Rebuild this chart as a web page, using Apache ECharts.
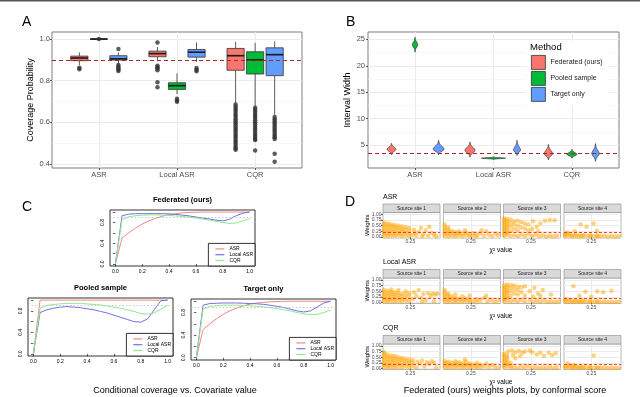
<!DOCTYPE html>
<html>
<head>
<meta charset="utf-8">
<script src="https://cdn.jsdelivr.net/npm/echarts@6/dist/echarts.min.js"></script>
<style>html,body{margin:0;padding:0;background:#fff}#main{width:640px;height:397px}</style>
</head>
<body>
<div id="main"></div>
<script>
// ---------- data ----------
const methods = ['Federated (ours)', 'Pooled sample', 'Target only'];
const scores = ['ASR', 'Local ASR', 'CQR'];
const methodColors = ['#F8766D', '#00BA38', '#619CFF'];

// A: coverage, [min, q1, median, q3, max] per score
const coverFed = [[0.875, 0.896, 0.909, 0.918, 0.936], [0.895, 0.915, 0.93, 0.942, 0.962], [0.69, 0.85, 0.92, 0.955, 0.987]];
const coverPooled = [[1.0, 1.0, 1.0, 1.0, 1.0], [0.735, 0.758, 0.776, 0.79, 0.835], [0.675, 0.832, 0.9, 0.939, 0.982]];
const coverTarget = [[0.88, 0.899, 0.905, 0.92, 0.935], [0.89, 0.913, 0.937, 0.95, 0.984], [0.635, 0.824, 0.925, 0.958, 0.989]];
// A: outliers per score
const outFed = [[0.862, 0.855], [0.984, 0.872, 0.865, 0.858, 0.85, 0.792, 0.768],
  [0.685, 0.675, 0.665, 0.655, 0.645, 0.635, 0.625, 0.615, 0.605, 0.595, 0.585, 0.575, 0.565, 0.555, 0.545, 0.535, 0.525, 0.515, 0.505, 0.495, 0.485, 0.475, 0.468]];
const outPooled = [[1.0], [0.713, 0.705, 0.699],
  [0.67, 0.66, 0.65, 0.64, 0.63, 0.62, 0.61, 0.6, 0.59, 0.58, 0.57, 0.56, 0.55, 0.54, 0.53, 0.52, 0.515, 0.464]];
const outTarget = [[0.952, 0.875, 0.868, 0.86, 0.853, 0.846], [0.861, 0.852, 0.845],
  [0.625, 0.615, 0.605, 0.595, 0.585, 0.575, 0.565, 0.555, 0.545, 0.535, 0.528, 0.52, 0.448, 0.41]];
const nominalCover = 0.9;

// B: interval width violins, [low, mode, high, peak density]
const widthFed = [[3.16, 4.17, 5.3, 0.87], [2.7, 3.98, 5.55, 1.0], [2.2, 3.35, 5.1, 0.83]];
const widthPooled = [[22.6, 24.0, 25.4, 0.53], [2.27, 2.5, 2.72, 2.4], [2.52, 3.22, 4.17, 1.0]];
const widthTarget = [[3.16, 4.17, 5.87, 1.07], [3.03, 4.0, 5.87, 0.7], [1.9, 3.35, 5.25, 0.73]];
const refWidth = 3.35;

// C: conditional coverage curves
const covX = [0, 0.05, 0.1, 0.15, 0.2, 0.25, 0.3, 0.35, 0.4, 0.45, 0.5, 0.55, 0.6, 0.65, 0.7, 0.75, 0.8, 0.85, 0.9, 0.95, 1.0];
const fedAsrC = [0, 0.5, 0.6, 0.69, 0.77, 0.83, 0.88, 0.92, 0.95, 0.97, 0.985, 0.993, 0.997, 1, 1, 1, 1, 1, 1, 1, 1];
const fedLocalC = [0, 0.93, 0.96, 0.97, 0.97, 0.97, 0.97, 0.97, 0.965, 0.955, 0.94, 0.925, 0.905, 0.885, 0.865, 0.845, 0.83, 0.86, 0.93, 0.98, 1.0];
const fedCqrC = [0, 0.86, 0.91, 0.93, 0.94, 0.945, 0.945, 0.94, 0.935, 0.925, 0.915, 0.9, 0.885, 0.865, 0.845, 0.82, 0.8, 0.78, 0.79, 0.83, 0.87];
const poolAsrC = [0, 1, 1, 1, 1, 1, 1, 1, 1, 1, 1, 1, 1, 1, 1, 1, 1, 1, 1, 1, 1];
const poolLocalC = [0, 0.77, 0.82, 0.85, 0.87, 0.88, 0.87, 0.86, 0.84, 0.82, 0.79, 0.76, 0.72, 0.68, 0.64, 0.6, 0.59, 0.65, 0.82, 0.99, 1.0];
const poolCqrC = [0, 0.85, 0.9, 0.92, 0.93, 0.94, 0.94, 0.94, 0.93, 0.92, 0.91, 0.89, 0.87, 0.85, 0.82, 0.79, 0.75, 0.74, 0.76, 0.83, 0.9];
const targAsrC = [0, 0.5, 0.6, 0.69, 0.77, 0.83, 0.88, 0.92, 0.95, 0.97, 0.98, 0.99, 0.995, 1, 1, 1, 1, 1, 1, 1, 1];
const targLocalC = [0, 0.93, 0.96, 0.965, 0.97, 0.97, 0.97, 0.965, 0.96, 0.955, 0.945, 0.93, 0.91, 0.89, 0.86, 0.83, 0.81, 0.83, 0.9, 0.97, 1.0];
const targCqrC = [0, 0.86, 0.91, 0.92, 0.93, 0.93, 0.93, 0.925, 0.92, 0.91, 0.9, 0.885, 0.87, 0.85, 0.83, 0.8, 0.78, 0.76, 0.77, 0.8, 0.85];
const nominalC = 0.9;

// D: weights, each entry [chi-square value, [weights...]]
const wAsr1 = [[0.03, [.05, .15, .25, .35, .45, .55, .63]], [0.06, [.03, .12, .22, .32, .42, .52, .6]], [0.09, [.06, .16, .27, .38, .48, .56]], [0.12, [.04, .13, .24, .35, .45, .53]], [0.15, [.08, .18, .3, .4, .5]], [0.18, [.03, .14, .25, .36, .46]], [0.21, [.07, .2, .32, .43]], [0.24, [.04, .15, .28, .4]], [0.27, [.1]], [0.28, [.32]], [0.29, [.18]], [0.3, [.05]], [0.32, [.22]], [0.34, [.4]], [0.35, [.02]], [0.36, [.12]], [0.38, [.3]], [0.4, [.05]], [0.41, [.45]], [0.43, [.18]], [0.45, [.1]], [0.47, [.03]]];
const wAsr2 = [[0.03, [.05, .15, .25, .35, .45, .55]], [0.06, [.03, .13, .23, .33, .42]], [0.09, [.06, .16, .26]], [0.12, [.03, .12, .22]], [0.15, [.07, .17, .25]], [0.18, [.04, .14]], [0.2, [.3]], [0.21, [.08, .2]], [0.24, [.03, .12]], [0.27, [.06, .18]], [0.3, [.02, .1]], [0.33, [.15]], [0.34, [.3]], [0.36, [.05]], [0.38, [.25]], [0.4, [.1]], [0.43, [.04]], [0.46, [.15]], [0.48, [.08]]];
const wAsr3 = [[0.025, [.05, .15, .25, .35, .45, .55, .65, .75, .82]], [0.05, [.1, .2, .3, .4, .5, .6, .7, .8]], [0.08, [.04, .25, .45, .62, .78]], [0.11, [.08, .35, .55, .7]], [0.14, [.03, .3, .5, .72]], [0.17, [.1, .42, .65]], [0.2, [.05, .38, .6]], [0.23, [.12, .3, .55]], [0.26, [.04, .35]], [0.27, [.7]], [0.29, [.1]], [0.3, [.45]], [0.31, [.25]], [0.32, [.03]], [0.33, [.6]], [0.35, [.08]], [0.37, [.72]], [0.38, [.02]], [0.41, [.06, .75]], [0.44, [.03]], [0.45, [.74]], [0.47, [.05]]];
const wAsr4 = [[0.03, [.03, .1, .16]], [0.05, [.2]], [0.06, [.05, .12]], [0.09, [.02, .08]], [0.11, [.25]], [0.12, [.04, .11]], [0.15, [.02, .07]], [0.16, [.55]], [0.18, [.03, .09]], [0.21, [.05, .45]], [0.24, [.02, .08]], [0.27, [.04, .6]], [0.3, [.02, .07, .28]], [0.33, [.03]], [0.36, [.05]], [0.39, [.02]], [0.42, [.04]], [0.45, [.02]], [0.48, [.03]]];
const wLocal1 = [[0.03, [.05, .15, .25, .35, .45, .55]], [0.06, [.03, .12, .22, .32, .42, .52]], [0.09, [.07, .17, .28, .38, .48, .58]], [0.12, [.04, .14, .25, .35, .45]], [0.15, [.08, .2, .32, .42, .55]], [0.18, [.03, .15, .27, .38]], [0.21, [.1, .22, .35, .5]], [0.24, [.05, .3, .42]], [0.27, [.15]], [0.28, [.45]], [0.3, [.3]], [0.32, [.55]], [0.34, [.2]], [0.35, [.03]], [0.36, [.38]], [0.38, [.1]], [0.4, [.42]], [0.42, [.3]], [0.44, [.4]], [0.45, [.05]], [0.46, [.35]], [0.48, [.4]]];
const wLocal2 = [[0.03, [.05, .15, .25, .35, .45, .55]], [0.06, [.03, .12, .22, .32, .4]], [0.09, [.06, .16, .28]], [0.12, [.03, .12, .2, .35]], [0.15, [.07, .17]], [0.18, [.04, .13, .28]], [0.21, [.08, .18]], [0.24, [.03, .12, .3]], [0.27, [.06]], [0.3, [.02, .14]], [0.33, [.08]], [0.36, [.2]], [0.38, [.3]], [0.39, [.04]], [0.42, [.12]], [0.45, [.03]], [0.48, [.1]]];
const wLocal3 = [[0.025, [.05, .15, .25, .35, .45, .55, .65, .75]], [0.05, [.1, .2, .3, .4, .5, .6, .7, .8]], [0.08, [.04, .3, .5, .65, .78]], [0.11, [.1, .4, .6, .75]], [0.14, [.05, .35, .55, .7]], [0.17, [.12, .45, .68]], [0.2, [.04, .3, .72]], [0.24, [.1, .5]], [0.27, [.03, .25]], [0.28, [.65]], [0.3, [.08]], [0.31, [.4]], [0.33, [.04, .3]], [0.35, [.55]], [0.36, [.1]], [0.39, [.03]], [0.42, [.06, .35]], [0.45, [.02]], [0.48, [.05]]];
const wLocal4 = [[0.03, [.03, .1, .15]], [0.06, [.05, .12]], [0.09, [.02, .08]], [0.1, [.72]], [0.12, [.04, .1]], [0.15, [.02, .07, .3]], [0.18, [.03, .09]], [0.2, [.48]], [0.21, [.05]], [0.24, [.02, .08]], [0.25, [.25]], [0.27, [.04]], [0.3, [.02, .07, .5]], [0.33, [.03]], [0.35, [.45]], [0.36, [.05]], [0.39, [.02]], [0.42, [.04, .52]], [0.45, [.02]], [0.48, [.03]]];
const wCqr1 = [[0.03, [.05, .15, .25, .35, .45, .55, .65, .72]], [0.06, [.03, .12, .22, .32, .42, .52, .62]], [0.09, [.07, .17, .28, .38, .48, .58]], [0.12, [.04, .14, .25, .35, .45, .55]], [0.15, [.08, .2, .3, .4, .5]], [0.18, [.03, .15, .27, .38, .47]], [0.21, [.1, .22, .33, .43]], [0.24, [.05, .18, .3, .4]], [0.27, [.1, .25, .37]], [0.3, [.05]], [0.31, [.3]], [0.33, [.2]], [0.35, [.35]], [0.37, [.1]], [0.39, [.28]], [0.41, [.2]], [0.43, [.32]], [0.45, [.25]], [0.47, [.05]]];
const wCqr2 = [[0.03, [.05, .15, .25, .33]], [0.06, [.03, .12, .22, .3]], [0.09, [.07, .17, .27]], [0.12, [.04, .14, .24, .32]], [0.15, [.08, .18, .28]], [0.18, [.03, .13, .23]], [0.2, [.4]], [0.21, [.07, .17, .3]], [0.24, [.04, .14, .22]], [0.27, [.08, .18]], [0.3, [.03, .12, .25]], [0.33, [.07, .16]], [0.36, [.1]], [0.38, [.22]], [0.4, [.05]], [0.42, [.15]], [0.45, [.08]], [0.48, [.03]]];
const wCqr3 = [[0.025, [.05, .15, .25, .35, .45, .55, .65]], [0.05, [.1, .2, .3, .4, .5, .6]], [0.06, [.75]], [0.08, [.04, .12, .25]], [0.09, [.8]], [0.1, [.6]], [0.11, [.06]], [0.12, [.45, .72]], [0.14, [.03]], [0.15, [.78]], [0.16, [.55]], [0.17, [.08]], [0.18, [.7]], [0.2, [.04, .75]], [0.23, [.1]], [0.24, [.8]], [0.26, [.03, .72]], [0.29, [.07]], [0.3, [.62]], [0.32, [.02]], [0.33, [.7]], [0.35, [.06]], [0.36, [.55]], [0.38, [.03]], [0.4, [.7]], [0.41, [.08]], [0.43, [.6]], [0.44, [.02]], [0.46, [.68]], [0.47, [.05]]];
const wCqr4 = [[0.03, [.03, .1]], [0.05, [.22]], [0.06, [.05, .12]], [0.09, [.02, .08]], [0.1, [.15]], [0.12, [.04, .1]], [0.15, [.02, .07]], [0.18, [.03, .08]], [0.21, [.05]], [0.24, [.02, .07]], [0.27, [.04, .58]], [0.3, [.02, .06]], [0.33, [.03]], [0.36, [.05]], [0.39, [.02]], [0.42, [.04]], [0.45, [.02]], [0.48, [.03]]];
const weightRef = 0.2;
const siteNames = ['Source site 1', 'Source site 2', 'Source site 3', 'Source site 4'];

// ---------- layout helpers ----------
const FONT = 'Liberation Sans, Arial, sans-serif';
const grids = [], xAxes = [], yAxes = [], series = [], legends = [], graphics = [];
const dodgeA = [-0.25, 0, 0.25];
const dodgeB = [-0.3, 0, 0.3];
const boxHalf = 0.11;
const violinUnit = 0.064;

function addGrid(g) { grids.push(Object.assign({containLabel: false, outerBoundsMode: 'none'}, g)); return grids.length - 1; }
function addX(a) { xAxes.push(a); return xAxes.length - 1; }
function addY(a) { yAxes.push(a); return yAxes.length - 1; }

function ggAxis(gi, min, max, ticks, fmt, size, margin, extra) {
    return Object.assign({
        gridIndex: gi, type: 'value', min: min, max: max,
        axisLine: {show: false},
        axisTick: {show: true, length: 2, customValues: ticks, lineStyle: {color: '#333', width: 0.8}},
        axisLabel: {customValues: ticks, formatter: fmt, fontSize: size, color: '#4d4d4d', margin: margin, fontFamily: FONT},
        splitLine: {show: true, lineStyle: {color: '#ebebeb', width: 1}}
    }, extra || {});
}
function ggMinor(gi, min, max, ticks) {
    return {
        gridIndex: gi, type: 'value', min: min, max: max, position: 'right',
        axisLine: {show: false}, axisLabel: {show: false},
        axisTick: {show: false, customValues: ticks},
        splitLine: {show: true, lineStyle: {color: '#f3f3f3', width: 0.6}}
    };
}
function refLine(xi, yi, v, ls) {
    return {
        type: 'scatter', xAxisIndex: xi, yAxisIndex: yi, data: [], silent: true, z: 6,
        markLine: {silent: true, symbol: 'none', label: {show: false}, lineStyle: ls, data: [{yAxis: v}], animation: false}
    };
}
function txt(s, x, y, size, align, more) {
    const el = {type: 'text', x: x, y: y, z: 100, silent: true,
        style: {text: s, fontSize: size, fontFamily: FONT, fill: '#000', align: align || 'left', verticalAlign: 'middle'}};
    if (more) {
        if (more.rotation) el.rotation = more.rotation;
        if (more.style) Object.assign(el.style, more.style);
    }
    graphics.push(el);
}

// box glyph for panel A
function boxItem(m) {
    return function (params, api) {
        const x = api.value(0) + dodgeA[m];
        const lo = api.coord([x, api.value(1)]);
        const q1 = api.coord([x, api.value(2)]);
        const md = api.coord([x, api.value(3)]);
        const q3 = api.coord([x, api.value(4)]);
        const hi = api.coord([x, api.value(5)]);
        const hw = api.size([boxHalf, 0])[0];
        const stroke = '#333';
        return {type: 'group', children: [
            {type: 'line', shape: {x1: lo[0], y1: lo[1], x2: q1[0], y2: q1[1]}, style: {stroke: stroke, lineWidth: 0.8}},
            {type: 'line', shape: {x1: q3[0], y1: q3[1], x2: hi[0], y2: hi[1]}, style: {stroke: stroke, lineWidth: 0.8}},
            {type: 'rect', shape: {x: q3[0] - hw, y: q3[1], width: 2 * hw, height: q1[1] - q3[1]},
                style: {fill: methodColors[m], stroke: stroke, lineWidth: 0.8}},
            {type: 'line', shape: {x1: md[0] - hw, y1: md[1], x2: md[0] + hw, y2: md[1]}, style: {stroke: '#1a1a1a', lineWidth: 1.6}}
        ]};
    };
}

// violin glyph for panel B
function violinItem(m) {
    return function (params, api) {
        const x = api.value(0) + dodgeB[m];
        const lo = api.value(1), mode = api.value(2), hi = api.value(3), dens = api.value(4);
        const half = api.size([dens * violinUnit, 0])[0];
        const left = [], right = [];
        const n = 40;
        for (let k = 0; k <= n; k++) {
            const v = lo + (hi - lo) * k / n;
            const d = v < mode ? (mode - v) / (mode - lo) : (v - mode) / (hi - mode);
            const w = half * Math.exp(-4 * d * d);
            const p = api.coord([x, v]);
            left.push([p[0] - w, p[1]]);
            right.unshift([p[0] + w, p[1]]);
        }
        return {type: 'polygon', shape: {points: left.concat(right)},
            style: {fill: methodColors[m], stroke: '#333', lineWidth: 0.7}};
    };
}

// ---------- panel A ----------
const gA = addGrid({left: 52, top: 32, width: 250, height: 136, show: true, borderColor: '#7f7f7f', borderWidth: 1});
const xA = addX(ggAxis(gA, 0.4, 3.6, [1, 2, 3], v => scores[Math.round(v) - 1], 7.5, 3));
addY(ggMinor(gA, 0.38, 1.034, [0.5, 0.7, 0.9]));
const yA = addY(ggAxis(gA, 0.38, 1.034, [0.4, 0.6, 0.8, 1.0], v => v.toFixed(1), 7.5, 2, {position: 'left'}));
[coverFed, coverPooled, coverTarget].forEach((boxes, m) => {
    series.push({type: 'custom', name: methods[m], xAxisIndex: xA, yAxisIndex: yA, silent: true, z: 3,
        renderItem: boxItem(m), encode: {x: 0, y: [1, 2, 3, 4, 5]}, itemStyle: {color: methodColors[m]},
        data: boxes.map((b, i) => [i + 1].concat(b))});
});
[outFed, outPooled, outTarget].forEach((outs, m) => {
    const pts = [];
    outs.forEach((vals, i) => vals.forEach(v => pts.push([i + 1 + dodgeA[m], v])));
    series.push({type: 'scatter', xAxisIndex: xA, yAxisIndex: yA, silent: true, z: 4, data: pts,
        symbolSize: 4.5, itemStyle: {color: '#333'}});
});
series.push(refLine(xA, yA, nominalCover, {color: '#b22222', type: [4, 3], width: 1}));
txt('A', 22, 22, 14);
txt('Coverage Probability', 31, 100, 9, 'center', {rotation: Math.PI / 2});

// ---------- panel B ----------
const gB = addGrid({left: 368, top: 32, width: 251, height: 136, show: true, borderColor: '#7f7f7f', borderWidth: 1});
const xB = addX(ggAxis(gB, 0.4, 3.6, [1, 2, 3], v => scores[Math.round(v) - 1], 7.5, 3));
addY(ggMinor(gB, 0.64, 26.4, [2.5, 7.5, 12.5, 17.5, 22.5]));
const yB = addY(ggAxis(gB, 0.64, 26.4, [5, 10, 15, 20, 25], v => String(v), 7.5, 3, {position: 'left'}));
[widthFed, widthPooled, widthTarget].forEach((vs, m) => {
    series.push({type: 'custom', name: methods[m], xAxisIndex: xB, yAxisIndex: yB, silent: true, z: 3,
        renderItem: violinItem(m), encode: {x: 0, y: [1, 2, 3]}, itemStyle: {color: methodColors[m]},
        data: vs.map((v, i) => [i + 1].concat(v))});
});
series.push(refLine(xB, yB, refWidth, {color: '#b22222', type: [4, 3], width: 1}));
legends.push({data: methods, orient: 'vertical', left: 526, top: 41, icon: 'rect', itemWidth: 14, itemHeight: 14,
    itemGap: 1.2, padding: [14, 6, 4, 5], backgroundColor: '#fff', selectedMode: false,
    itemStyle: {borderColor: '#333', borderWidth: 0.8},
    textStyle: {fontSize: 7, color: '#1a1a1a', fontFamily: FONT}});
txt('Method', 530, 47, 9.5);
txt('B', 346, 22, 14);
txt('Interval Width', 348, 100, 9, 'center', {rotation: Math.PI / 2});

// ---------- panel C ----------
const cColors = ['#EE8A80', '#7070E0', '#90E890'];
const cPanels = [
    {title: 'Federated (ours)', curves: [fedAsrC, fedLocalC, fedCqrC], box: [110, 210, 145, 56]},
    {title: 'Pooled sample', curves: [poolAsrC, poolLocalC, poolCqrC], box: [28, 298, 145, 58]},
    {title: 'Target only', curves: [targAsrC, targLocalC, targCqrC], box: [191, 299, 145, 61]}
];
cPanels.forEach(p => {
    const [l, t, w, h] = p.box;
    const g = addGrid({left: l, top: t, width: w, height: h, show: true, borderColor: '#000', borderWidth: 0.8});
    const ticks = [0, 0.2, 0.4, 0.6, 0.8, 1.0];
    const xi = addX({gridIndex: g, type: 'value', min: -0.04, max: 1.04,
        axisLine: {show: false}, splitLine: {show: false},
        axisTick: {show: true, length: 2.5, customValues: ticks, lineStyle: {color: '#000', width: 0.6}},
        axisLabel: {customValues: ticks, formatter: v => v.toFixed(1), fontSize: 5, color: '#000', margin: 3.5, fontFamily: FONT}});
    const yi = addY({gridIndex: g, type: 'value', min: -0.04, max: 1.04,
        axisLine: {show: false}, splitLine: {show: false},
        axisTick: {show: true, length: 2.5, customValues: ticks, lineStyle: {color: '#000', width: 0.6}},
        axisLabel: {customValues: [0, 0.4, 0.8], formatter: v => v.toFixed(1), fontSize: 5, color: '#000', margin: 5, rotate: 90, fontFamily: FONT}});
    p.curves.forEach((vals, k) => {
        series.push({type: 'line', name: scores[k], xAxisIndex: xi, yAxisIndex: yi, silent: true, showSymbol: false,
            data: covX.map((x, i) => [x, vals[i]]), lineStyle: {color: cColors[k], width: 1}, itemStyle: {color: cColors[k]}, z: 3});
    });
    series.push(refLine(xi, yi, nominalC, {color: '#bdbdbd', type: [1.5, 2], width: 0.8}));
    legends.push({data: scores, orient: 'vertical', right: 640 - (l + w), bottom: 397 - (t + h), icon: 'rect',
        itemWidth: 9, itemHeight: 1.2, itemGap: 0.8, padding: [3, 2, 3, 7], backgroundColor: '#fff',
        borderColor: '#000', borderWidth: 0.8, selectedMode: false,
        textStyle: {fontSize: 5, color: '#000', fontFamily: FONT}});
    txt(p.title, l + w / 2, t - 10, 7.5, 'center', {style: {fontWeight: 'bold'}});
});
txt('C', 22, 207, 14);
txt('Conditional coverage vs. Covariate value', 175, 391, 9, 'center');

// ---------- panel D ----------
const dRows = [
    {label: 'ASR', sets: [wAsr1, wAsr2, wAsr3, wAsr4]},
    {label: 'Local ASR', sets: [wLocal1, wLocal2, wLocal3, wLocal4]},
    {label: 'CQR', sets: [wCqr1, wCqr2, wCqr3, wCqr4]}
];
const dLeft = [383, 443.5, 503.5, 564];
const dTop = [212.5, 278, 344];
const dW = 57, dH = 25.5, stripH = 8.5;
dRows.forEach((row, r) => {
    row.sets.forEach((set, c) => {
        const g = addGrid({left: dLeft[c], top: dTop[r], width: dW, height: dH, show: true, borderColor: '#9a9a9a', borderWidth: 0.7});
        const xi = addX(ggAxis(g, 0.02, 0.5, [0.25], v => v.toFixed(2), 5, 1.5));
        const yTicks = [0, 0.25, 0.5, 0.75, 1.0];
        const yi = addY(ggAxis(g, -0.045, 1.085, yTicks, v => v.toFixed(2), 5, 1.5, c === 0 ? {} : {
            axisTick: {show: false, customValues: yTicks}, axisLabel: {show: false, customValues: yTicks}}));
        const pts = [];
        set.forEach(col => col[1].forEach(w => pts.push([col[0], w])));
        series.push({type: 'scatter', xAxisIndex: xi, yAxisIndex: yi, silent: true, data: pts, symbolSize: 4.5,
            itemStyle: {color: '#FFA500', opacity: 0.5}, z: 3});
        series.push(refLine(xi, yi, weightRef, {color: '#ff3b2f', type: [3, 2], width: 1}));
        graphics.push({type: 'rect', z: 90, silent: true, shape: {x: dLeft[c], y: dTop[r] - stripH, width: dW, height: stripH},
            style: {fill: '#d9d9d9', stroke: '#8a8a8a', lineWidth: 0.6}});
        txt(siteNames[c], dLeft[c] + dW / 2, dTop[r] - stripH / 2, 5, 'center', {style: {fill: '#1a1a1a'}});
    });
    txt(row.label, 383, dTop[r] - 15.5, 7);
    txt('Weights', 367, dTop[r] + dH / 2, 6, 'center', {rotation: Math.PI / 2});
    txt('\u03c7\u00b2 value', 501, dTop[r] + dH + 12.5, 6.5, 'center');
});
txt('D', 345, 202, 14);
txt('Federated (ours) weights plots, by conformal score', 505, 391, 9, 'center');

// frame line at the top
graphics.push({type: 'rect', z: 100, silent: true, shape: {x: 0, y: 0, width: 640, height: 1.5}, style: {fill: '#555'}});

const chart = echarts.init(document.getElementById('main'), null, {renderer: 'canvas'});
chart.setOption({
    animation: false,
    backgroundColor: '#fff',
    textStyle: {fontFamily: FONT},
    grid: grids,
    xAxis: xAxes,
    yAxis: yAxes,
    legend: legends,
    series: series,
    graphic: {elements: graphics}
});
</script>
</body>
</html>
